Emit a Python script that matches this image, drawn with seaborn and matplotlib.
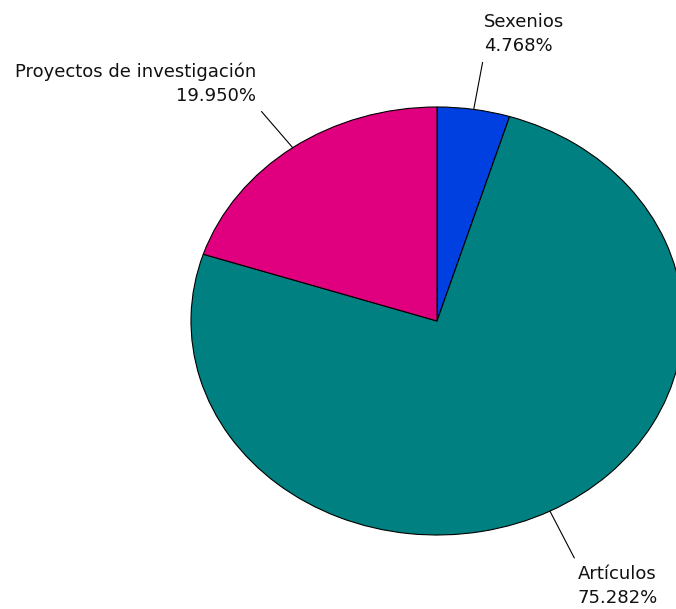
import numpy as np
import matplotlib
matplotlib.use("Agg")
import matplotlib.pyplot as plt
import seaborn as sns

# datos
categorias = ["Sexenios", "Artículos", "Proyectos de investigación"]
porcentajes = [4.768, 75.282, 19.950]
colores = ["#0040e0", "#008080", "#e0007f"]

sns.set_theme(style="white")
plt.rcParams["font.family"] = ["DejaVu Sans"]

fig = plt.figure(figsize=(6.76, 6.09), dpi=100)
# ejes estirados: la tarta sale como elipse
ax = fig.add_axes([191 / 676, 74 / 609, 492 / 676, 428 / 609])

wedges, _ = ax.pie(porcentajes, colors=colores, startangle=90, counterclock=False,
                   wedgeprops=dict(edgecolor="black", linewidth=0.8))
ax.set_aspect("auto")
ax.set_xlim(-1, 1)
ax.set_ylim(-1, 1)
ax.axis("off")

# posiciones de las etiquetas (x, y, ha, va, punto de enganche)
pos_etiquetas = [(0.191, 1.243, "left", "bottom", (0, 0)),
                 (0.573, -1.14, "left", "top", (0, 1)),
                 (-0.736, 1.009, "right", "bottom", (1, 0))]

for w, cat, pct, (tx, ty, ha, va, rp) in zip(wedges, categorias, porcentajes, pos_etiquetas):
    ang = np.deg2rad((w.theta1 + w.theta2) / 2)
    x, y = np.cos(ang), np.sin(ang)
    ax.annotate(f"{cat}\n{pct:.3f}%", xy=(x, y), xytext=(tx, ty),
                ha=ha, va=va, multialignment=ha, fontsize=13, color="#111111",
                linespacing=1.45,
                arrowprops=dict(arrowstyle="-", color="black", lw=0.8,
                                shrinkA=3, shrinkB=0, relpos=rp))

fig.savefig("out.png", dpi=100)
